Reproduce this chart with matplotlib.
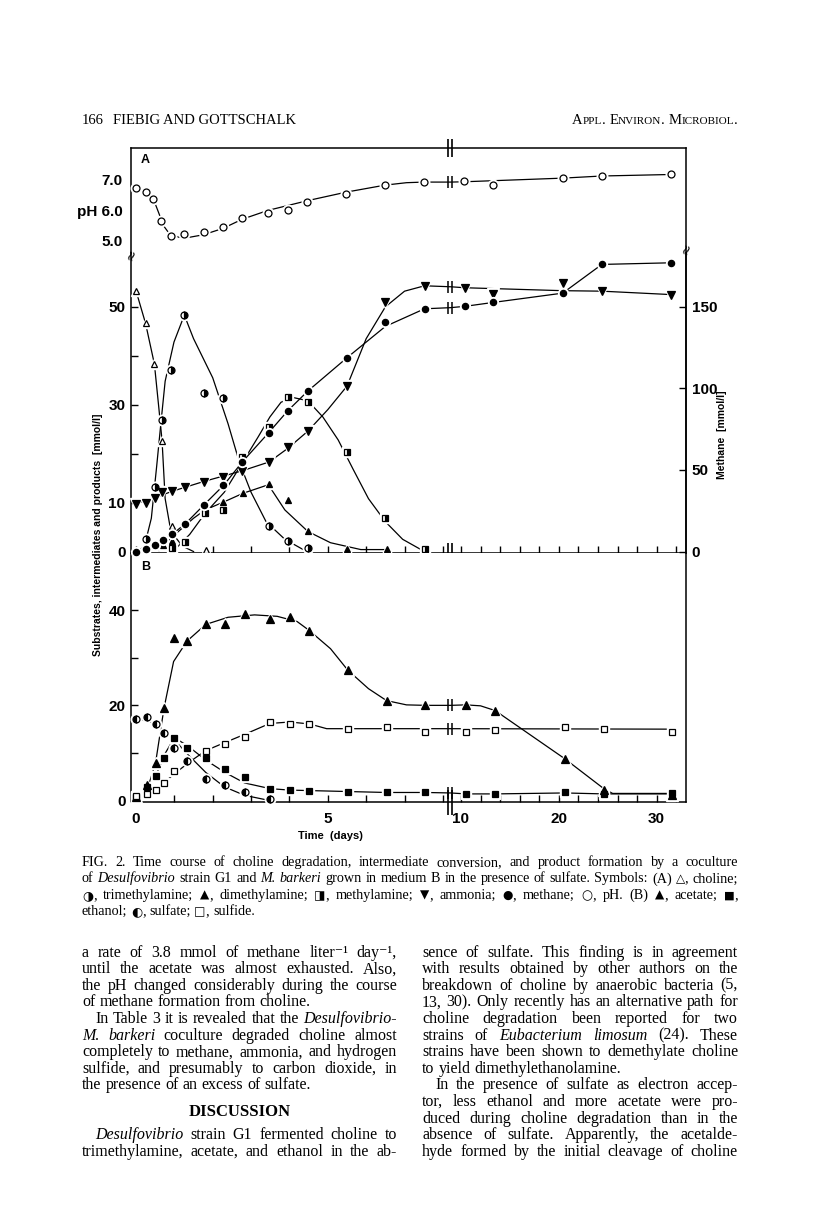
import matplotlib
matplotlib.use("Agg")
import matplotlib.pyplot as plt
from matplotlib.ticker import FixedLocator, FixedFormatter
import numpy as np

# ---------------- data (time in days) ----------------
# panel A, upper part: pH
ph_t = [0, 0.25, 0.45, 0.66, 0.92, 1.26, 1.76, 2.27, 2.77, 3.44, 3.95, 4.47, 5.48, 6.49, 7.5, 10.3, 13.3, 20.4, 24.4, 31.5]
ph_v = [6.73, 6.61, 6.37, 5.66, 5.16, 5.22, 5.28, 5.44, 5.75, 5.91, 6.02, 6.29, 6.55, 6.83, 6.93, 6.95, 6.85, 7.06, 7.13, 7.18]
ph_ct = [0, 0.25, 0.47, 0.61, 0.71, 0.86, 1.11, 1.41, 1.76, 2.27, 2.77, 3.44, 4.47, 5.48, 6.49, 7.05, 7.5, 8.2, 10.3, 20.4, 24.4, 31.5]
ph_cv = [6.66, 6.60, 6.32, 5.86, 5.51, 5.25, 5.12, 5.12, 5.20, 5.41, 5.71, 6.0, 6.32, 6.60, 6.83, 6.91, 6.93, 6.93, 6.94, 7.06, 7.13, 7.18]

# panel A, mmol/l
choline_t = [0, 0.25, 0.48, 0.68, 0.94, 1.83]
choline_v = [53.3, 46.6, 38.3, 22.6, 5.3, 0.3]
choline_ct = [0, 0.25, 0.48, 0.6, 0.68, 0.76, 0.91, 1.21, 1.5]
choline_cv = [53.3, 46.6, 38.3, 29.0, 22.6, 10.8, 4.1, 1.1, 0.0]

tma_t = [0.25, 0.49, 0.68, 0.92, 1.26, 1.76, 2.27, 2.77, 3.46, 3.96, 4.48]
tma_v = [2.6, 13.1, 26.9, 37.1, 48.3, 32.3, 31.3, 18.1, 5.3, 2.1, 0.8]
tma_ct = [0.05, 0.22, 0.4, 0.54, 0.64, 0.76, 0.99, 1.26, 1.5, 2.0, 2.4, 2.7, 3.0, 3.39, 3.88, 4.38]
tma_cv = [0.0, 1.1, 6.8, 17.5, 25.5, 34.8, 42.8, 48.3, 43.5, 35.5, 26.1, 18.1, 12.1, 6.1, 2.5, 0.3]

dma_t = [0.71, 0.94, 2.28, 2.79, 3.47, 3.95, 4.48, 5.5, 6.53]
dma_v = [1.3, 2.1, 10.1, 11.9, 13.7, 10.5, 4.1, 0.6, 0.6]
dma_ct = [0.6, 0.91, 1.21, 1.5, 1.8, 2.28, 2.79, 3.47, 3.52, 3.88, 4.48, 5.07, 5.86, 6.55]
dma_cv = [0.2, 2.8, 4.8, 6.8, 8.5, 10.1, 11.9, 13.7, 12.8, 8.5, 4.1, 1.8, 0.4, 0.4]

mma_t = [0.94, 1.29, 1.8, 2.28, 2.77, 3.46, 3.96, 4.48, 5.5, 6.5, 7.52]
mma_v = [0.7, 2.0, 7.8, 8.5, 19.3, 25.5, 31.5, 30.5, 20.3, 6.8, 0.5]
mma_ct = [1.0, 1.4, 1.8, 2.3, 2.77, 3.19, 3.49, 3.78, 4.08, 4.48, 4.87, 5.27, 5.66, 6.06, 6.5, 6.95, 7.45]
mma_cv = [0.3, 3.5, 7.8, 12.1, 18.1, 23.5, 27.5, 30.5, 31.5, 30.8, 27.5, 22.8, 16.8, 10.8, 6.1, 2.5, 0.3]

nh3_t = [0, 0.25, 0.49, 0.68, 0.94, 1.29, 1.76, 2.28, 2.77, 3.47, 3.96, 4.48, 5.5, 6.5, 7.52, 10.4, 13.3, 20.4, 24.4, 31.5]
nh3_v = [9.8, 10.0, 11.0, 12.1, 12.3, 13.1, 14.3, 15.3, 16.5, 18.3, 21.3, 24.6, 33.8, 51.0, 54.3, 53.8, 52.6, 54.8, 53.3, 52.5]
nh3_ct = [0, 0.49, 0.94, 1.76, 2.77, 3.47, 3.96, 4.48, 5.0, 5.5, 6.0, 6.5, 7.0, 7.52, 8.2, 10.4, 20.4, 24.4, 31.5]
nh3_cv = [9.8, 11.0, 12.3, 14.3, 16.5, 18.3, 21.1, 24.6, 29.0, 33.8, 43.5, 50.0, 53.2, 54.3, 54.1, 53.9, 53.3, 53.2, 52.5]

# methane, right axis (mmol/l)
ch4_t = [0, 0.25, 0.49, 0.71, 0.94, 1.29, 1.78, 2.28, 2.77, 3.46, 3.96, 4.48, 5.5, 6.5, 7.52, 10.4, 13.3, 20.4, 24.4, 31.5]
ch4_v = [0, 1.5, 3.9, 6.9, 10.5, 17.1, 28.8, 40.5, 54.9, 72.9, 86.4, 98.4, 118.8, 140.4, 148.8, 150.3, 152.7, 158.4, 176, 177]
ch4_ct = [0, 0.25, 0.49, 0.71, 0.94, 1.29, 1.78, 2.28, 2.77, 3.46, 3.96, 4.48, 5.5, 6.5, 7.52, 8.2, 10.4, 13.3, 20.4, 24.4, 31.5]
ch4_cv = [0, 1.5, 3.9, 6.9, 10.5, 17.1, 28.8, 40.5, 54.9, 72.9, 86.4, 98.4, 118.8, 138.0, 148.8, 149.5, 150.3, 152.7, 158.4, 176, 177]

# panel B
acet_t = [0, 0.3, 0.51, 0.73, 0.98, 1.33, 1.82, 2.32, 2.83, 3.5, 4.01, 4.52, 5.52, 6.53, 7.54, 10.5, 13.5, 20.6, 24.6, 31.6]
acet_v = [0.7, 3.2, 7.9, 19.4, 34.2, 33.5, 37.0, 37.0, 39.1, 38.1, 38.5, 35.7, 27.4, 21.0, 20.1, 20.1, 18.9, 8.8, 2.2, 1.1]
acet_ct = [0, 0.3, 0.51, 0.73, 0.98, 1.33, 1.82, 2.4, 3.09, 3.68, 4.2, 4.52, 5.07, 5.52, 6.06, 6.53, 7.05, 7.54, 8.2, 10.5, 12.0, 13.5, 20.6, 24.6, 25.5, 31.6]
acet_cv = [0.2, 2.5, 7.9, 19.4, 29.2, 33.5, 37.0, 38.5, 39.0, 38.7, 37.6, 35.7, 31.9, 27.4, 23.5, 21.0, 20.1, 20.0, 20.0, 20.1, 19.9, 18.9, 8.8, 2.5, 1.5, 1.5]

etoh_t = [0, 0.3, 0.53, 0.73, 0.98, 1.33, 1.82, 2.32, 2.83, 3.5, 4.01, 4.52, 5.52, 6.53, 7.54, 10.5, 13.5, 20.6, 24.6, 31.6]
etoh_v = [0.7, 2.9, 5.2, 9.0, 13.2, 11.1, 9.0, 6.7, 5.0, 2.5, 2.2, 2.1, 1.9, 1.7, 1.7, 1.4, 1.4, 1.7, 1.3, 1.5]
etoh_ct = [0, 0.3, 0.53, 0.76, 1.0, 1.33, 1.82, 2.32, 2.83, 3.5, 4.01, 4.52, 5.52, 6.53, 7.54, 8.2, 10.5, 13.5, 20.6, 24.6, 31.6]
etoh_cv = [0.2, 2.5, 5.5, 9.9, 13.2, 11.6, 8.5, 5.9, 3.7, 2.5, 2.2, 2.1, 1.9, 1.7, 1.7, 1.6, 1.4, 1.4, 1.6, 1.4, 1.4]

so4_t = [0, 0.3, 0.51, 0.73, 0.98, 1.33, 1.82, 2.32, 2.83, 3.5]
so4_v = [17.2, 17.5, 16.0, 14.1, 11.1, 8.4, 4.5, 3.2, 1.7, 0.3]
so4_ct = [0, 0.51, 0.98, 1.41, 1.82, 2.3, 2.83, 3.49]
so4_cv = [17.2, 16.2, 12.9, 9.2, 5.9, 2.9, 1.1, 0.0]

h2s_t = [0, 0.3, 0.51, 0.73, 0.98, 1.82, 2.32, 2.83, 3.5, 4.01, 4.52, 5.52, 6.53, 7.54, 10.5, 13.5, 20.6, 24.6, 31.6]
h2s_v = [0.9, 1.3, 2.2, 3.7, 6.3, 10.5, 11.9, 13.3, 16.5, 16.1, 16.1, 15.1, 15.5, 14.5, 14.5, 14.9, 15.4, 15.1, 14.5]
h2s_ct = [0, 0.51, 0.98, 1.41, 1.82, 2.32, 2.83, 3.49, 4.01, 4.52, 4.97, 5.52, 8.2, 31.6]
h2s_cv = [0.9, 2.2, 5.5, 8.2, 10.5, 12.2, 13.9, 16.2, 16.5, 16.1, 15.1, 15.1, 15.1, 15.0]

# values of the curves where they cross the axis break
ph_brk, nh3_brk, ch4_brk = 6.93, 54.1, 149.5
acet_brk, h2s_brk, etoh_brk = 20.0, 15.1, 1.6

x_major = [0, 5, 10, 20, 30]
x_minor = [1, 2, 3, 4, 6, 7, 8, 12, 14, 16, 18, 22, 24, 26, 28, 32]

caption = [
    "FIG. 2. Time course of choline degradation, intermediate conversion, and product formation by a coculture",
    "of _Desulfovibrio_ strain G1 and _M._ _barkeri_ grown in medium B in the presence of sulfate. Symbols: (A) \u25b3, choline;",
    "\u25d1, trimethylamine; \u25b2, dimethylamine; \u25e8, methylamine; \u25bc, ammonia; \u25cf, methane; \u25cb, pH. (B) \u25b2, acetate; \u25a0,",
    "ethanol; \u25d0, sulfate; \u25a1, sulfide.",
]
left_col = [
    "a rate of 3.8 mmol of methane liter\u207b\u00b9 day\u207b\u00b9,",
    "until the acetate was almost exhausted. Also,",
    "the pH changed considerably during the course",
    "of methane formation from choline.",
    "In Table 3 it is revealed that the _Desulfovibrio-_",
    "_M._ _barkeri_ coculture degraded choline almost",
    "completely to methane, ammonia, and hydrogen",
    "sulfide, and presumably to carbon dioxide, in",
    "the presence of an excess of sulfate.",
    "_Desulfovibrio_ strain G1 fermented choline to",
    "trimethylamine, acetate, and ethanol in the ab-",
]
left_rows = [0, 1, 2, 3, 4, 5, 6, 7, 8, 11, 12]
left_last = {3, 8}
left_indent = {4, 9}
right_col = [
    "sence of sulfate. This finding is in agreement",
    "with results obtained by other authors on the",
    "breakdown of choline by anaerobic bacteria (5,",
    "13, 30). Only recently has an alternative path for",
    "choline degradation been reported for two",
    "strains of _Eubacterium_ _limosum_ (24). These",
    "strains have been shown to demethylate choline",
    "to yield dimethylethanolamine.",
    "In the presence of sulfate as electron accep-",
    "tor, less ethanol and more acetate were pro-",
    "duced during choline degradation than in the",
    "absence of sulfate. Apparently, the acetalde-",
    "hyde formed by the initial cleavage of choline",
]
right_last = {7}
right_indent = {8}

# ---------------- figure ----------------
W, H = 816, 1208
fig = plt.figure(figsize=(W / 100, H / 100), dpi=100)
SANS = ['Liberation Sans', 'DejaVu Sans']
SERIF = ['Liberation Serif', 'DejaVu Sans']
SYMF = ['DejaVu Sans']
SYM_SCALE = {'\u25d1': 0.9, '\u25d0': 0.9, '\u25cf': 0.85, '\u25b3': 0.85, '\u25b2': 0.85,
             '\u25bc': 0.85, '\u25e8': 0.85, '\u25cb': 0.9, '\u25a0': 0.8, '\u25a1': 0.85}

BRK_L, BRK_R, SQ = 8.2, 8.94, 0.255


def fwd(t):
    t = np.asarray(t, dtype=float)
    return np.where(t <= BRK_L, t, BRK_L + (np.maximum(t, BRK_R) - BRK_R) * SQ)


def inv(u):
    u = np.asarray(u, dtype=float)
    return np.where(u <= BRK_L, u, BRK_R + (u - BRK_L) / SQ)


def rect(l, t, r, b):
    return [l / W, 1 - b / H, (r - l) / W, (b - t) / H]


axP = fig.add_axes(rect(131, 148, 686, 253))
axA = fig.add_axes(rect(131, 253, 686, 553), sharex=axP)
axB = fig.add_axes(rect(131, 553, 686, 802), sharex=axP)
axP.set_xscale('function', functions=(fwd, inv))
axP.set_xlim(-0.13, 33.0)
axM = axA.twinx()

axP.set_ylim(4.6, 8.05)
axA.set_ylim(-0.3, 61)
axM.set_ylim(-0.9, 183)
axB.set_ylim(-0.3, 52)

for ax in (axP, axA, axB, axM):
    for s in ax.spines.values():
        s.set_linewidth(1.1)
axP.spines['bottom'].set_visible(False)
axA.spines['top'].set_visible(False)
axB.spines['top'].set_visible(False)
for s in ('top', 'bottom', 'left'):
    axM.spines[s].set_visible(False)

axB.xaxis.set_major_locator(FixedLocator(x_major))
axB.xaxis.set_major_formatter(FixedFormatter([str(v) for v in x_major]))
axB.xaxis.set_minor_locator(FixedLocator(x_minor))
for ax in (axA, axB):
    ax.tick_params(axis='x', which='both', direction='in', length=5, width=1, top=False)
axP.tick_params(axis='x', which='both', bottom=False, top=False, labelbottom=False)
axA.tick_params(axis='x', labelbottom=False)
axB.tick_params(axis='x', which='major', pad=7, labelsize=11)

axP.yaxis.set_major_locator(FixedLocator([5, 6, 7]))
axP.yaxis.set_major_formatter(FixedFormatter(['5.0', 'pH 6.0', '7.0']))
axA.yaxis.set_major_locator(FixedLocator([0, 10, 20, 30, 40, 50]))
axA.yaxis.set_major_formatter(FixedFormatter(['0', '10', '', '30', '', '50']))
axB.yaxis.set_major_locator(FixedLocator([0, 10, 20, 30, 40]))
axB.yaxis.set_major_formatter(FixedFormatter(['0', '', '20', '', '40']))
axM.yaxis.set_major_locator(FixedLocator([0, 50, 100, 150]))
for ax in (axP, axA, axB):
    ax.tick_params(axis='y', direction='in', length=5, width=1, labelsize=11, pad=4, right=False)
axP.tick_params(axis='y', length=0, pad=6)
axM.tick_params(axis='y', direction='in', length=5, width=1, labelsize=11, pad=4)

for ax in (axP, axA, axB, axM):
    for lab in ax.get_xticklabels() + ax.get_yticklabels():
        lab.set_family(SANS)
        lab.set_fontweight('bold')


def series(ax, ct, cv, mt, mv, marker, ms=5.0, face='k', fill='full', z=3):
    ax.plot(ct, cv, color='k', lw=0.9, zorder=z)
    ax.plot(mt, mv, ls='none', marker=marker, ms=ms + 2.6, color='white', mec='white',
            zorder=z + 0.1, clip_on=False)
    ax.plot(mt, mv, ls='none', marker=marker, ms=ms, mfc=face, mec='k', mew=0.9,
            fillstyle=fill, markerfacecoloralt='white', zorder=z + 0.2, clip_on=False)


def curve_break(ax, y, ms=8):
    ax.plot([8.14, 9.12], [y, y], ls='none', marker='|', ms=ms, mew=1.1, color='k', zorder=8)


def spine_break(ax, yfrac, ms):
    ax.plot([8.14, 9.12], [yfrac, yfrac], transform=ax.get_xaxis_transform(), ls='none',
            marker='|', ms=ms, mew=1.2, color='k', clip_on=False, zorder=9)


# pH
series(axP, ph_ct, ph_cv, ph_t, ph_v, 'o', ms=5, face='white')
curve_break(axP, ph_brk)

# panel A
series(axA, choline_ct, choline_cv, choline_t, choline_v, '^', ms=5, face='white')
series(axA, tma_ct, tma_cv, tma_t, tma_v, 'o', ms=5, face='k', fill='right')
series(axA, dma_ct, dma_cv, dma_t, dma_v, '^', ms=4.5, face='k')
series(axA, mma_ct, mma_cv, mma_t, mma_v, 's', ms=5, face='k', fill='right')
series(axA, nh3_ct, nh3_cv, nh3_t, nh3_v, 'v', ms=5.5, face='k')
curve_break(axA, nh3_brk)
series(axM, ch4_ct, ch4_cv, ch4_t, ch4_v, 'o', ms=4.5, face='k')
curve_break(axM, ch4_brk)

# panel B
series(axB, acet_ct, acet_cv, acet_t, acet_v, '^', ms=6, face='k')
series(axB, etoh_ct, etoh_cv, etoh_t, etoh_v, 's', ms=5, face='k')
series(axB, so4_ct, so4_cv, so4_t, so4_v, 'o', ms=5, face='k', fill='left')
series(axB, h2s_ct, h2s_cv, h2s_t, h2s_v, 's', ms=5, face='white')
for y in (acet_brk, h2s_brk, etoh_brk):
    curve_break(axB, y)

spine_break(axP, 1, 13)
spine_break(axA, 0, 15)
spine_break(axB, 0, 18)

axP.text(0.018, 0.86, 'A', transform=axP.transAxes, fontsize=9, fontweight='bold', family=SANS)
axB.text(0.018, 0.93, 'B', transform=axB.transAxes, fontsize=9, fontweight='bold', family=SANS)
fig.text(131 / W, 1 - 255 / H, '\u2248', fontsize=10, rotation=70, ha='center', va='center')
fig.text(686 / W, 1 - 249 / H, '\u2248', fontsize=10, rotation=70, ha='center', va='center')

fig.text(98 / W, 1 - 535 / H, 'Substrates, intermediates and products  [mmol/l]', rotation=90,
         ha='center', va='center', fontsize=7.5, fontweight='bold', family=SANS)
fig.text(722 / W, 1 - 435 / H, 'Methane  [mmol/l]', rotation=90, ha='center', va='center',
         fontsize=7.5, fontweight='bold', family=SANS)
fig.text(330 / W, 1 - 836 / H, 'Time  (days)', ha='center', va='center', fontsize=8,
         fontweight='bold', family=SANS)

# ---------------- page text ----------------
renderer = fig.canvas.get_renderer()


def segments(word):
    if word.startswith('_') and word.endswith('_'):
        return [(word.strip('_'), SERIF, 'italic', 1.0)]
    segs, buf = [], ''
    for ch in word:
        if ch in SYM_SCALE:
            if buf:
                segs.append((buf, SERIF, 'normal', 1.0))
                buf = ''
            segs.append((ch, SYMF, 'normal', SYM_SCALE[ch]))
        else:
            buf += ch
    if buf:
        segs.append((buf, SERIF, 'normal', 1.0))
    return segs


def width_of(txt, size, family=SERIF, style='normal', weight='normal'):
    t = fig.text(0, 0, txt, fontsize=size, family=family, style=style, weight=weight)
    w = t.get_window_extent(renderer).width
    t.remove()
    return w


def natural_width(line, size):
    words = [segments(w) for w in line.split()]
    total = sum(width_of(s, size * k, f, st) for segs in words for s, f, st, k in segs)
    return total + (len(words) - 1) * size * 100 / 72 * 0.25


def text_line(line, x0, x1, y, size, justify=True, indent=0.0):
    words = [segments(w) for w in line.split()]
    widths = [[width_of(s, size * k, f, st) for s, f, st, k in segs] for segs in words]
    natural = size * 100 / 72 * 0.25
    base = y + 0.225 * size * 100 / 72
    x = x0 + indent
    if justify and len(words) > 1:
        gap = (x1 - x - sum(sum(w) for w in widths)) / (len(words) - 1)
    else:
        gap = natural
    for segs, ws in zip(words, widths):
        for (s, f, st, k), wd in zip(segs, ws):
            fig.text(x / W, 1 - base / H, s, fontsize=size * k, family=f, style=st,
                     va='baseline', ha='left')
            x += wd
        x += gap


def fit_size(lines, width, slack=0.985):
    return min(10 * slack * width / natural_width(ln, 10) for ln in lines)


# text block
TX0, TX1 = 82, 738
LC0, LC1 = 82, 397
RC0, RC1 = 422, 738

# running head
head_y = 121 + 3.5
fig.text(TX0 / W, 1 - head_y / H, '166', fontsize=10.5, family=SERIF, va='baseline')
fig.text(113 / W, 1 - head_y / H, 'FIEBIG AND GOTTSCHALK', fontsize=10.5, family=SERIF,
         va='baseline')
head_parts = [('A', 10.5), ('PPL', 8), ('. ', 10.5), ('E', 10.5), ('NVIRON', 8), ('. ', 10.5),
              ('M', 10.5), ('ICROBIOL', 8), ('.', 10.5)]
head_w = [width_of(t, s) for t, s in head_parts]
hx = TX1 - sum(head_w)
for (t, s), wd in zip(head_parts, head_w):
    fig.text(hx / W, 1 - head_y / H, t, fontsize=s, family=SERIF, va='baseline')
    hx += wd

# sizes fitted to the longest justified lines
cap_size = fit_size(caption[:3], TX1 - TX0, 0.99)
body_size = min(fit_size([right_col[3], left_col[0], right_col[0]], RC1 - RC0, 0.99),
                fit_size([left_col[4]], LC1 - LC0 - 13, 0.99))

# caption
cap_y0, cap_dy = 863, 16.3
for i, line in enumerate(caption):
    text_line(line, TX0, TX1, cap_y0 + i * cap_dy, cap_size, justify=(i < len(caption) - 1))

# two body columns
row_y0, row_dy = 953, 16.6
for idx, (line, row) in enumerate(zip(left_col, left_rows)):
    text_line(line, LC0, LC1, row_y0 + row * row_dy, body_size,
              justify=(idx not in left_last), indent=13 if idx in left_indent else 0)
disc_y = row_y0 + 9.6 * row_dy + 0.225 * (body_size + 0.5) * 100 / 72
fig.text((LC0 + LC1) / 2 / W, 1 - disc_y / H, 'DISCUSSION',
         fontsize=body_size + 0.5, family=SERIF, weight='bold', ha='center', va='baseline')
for i, line in enumerate(right_col):
    text_line(line, RC0, RC1, row_y0 + i * row_dy, body_size,
              justify=(i not in right_last), indent=13 if i in right_indent else 0)

fig.savefig('out.png', dpi=100)
